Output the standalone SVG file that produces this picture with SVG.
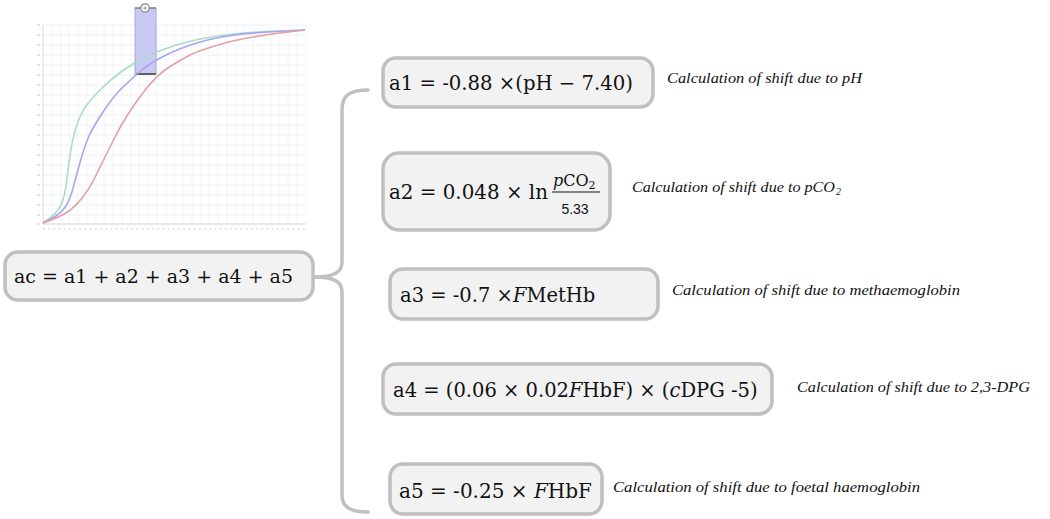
<svg xmlns="http://www.w3.org/2000/svg" width="1050" height="519" viewBox="0 0 1050 519">
<style>
.box{fill:#f2f2f2;stroke:#bfbfbf;stroke-width:3.5}
.f{font-family:"DejaVu Serif","Liberation Serif",serif;font-size:19px;fill:#111}
.i{font-style:italic}
.note{font-family:"Liberation Serif","DejaVu Serif",serif;font-style:italic;font-size:15px;fill:#111}
.conn{fill:none;stroke:#c0c0c0;stroke-width:3.5;stroke-linecap:round}
.gh{stroke:#edf0f9;stroke-width:1}
.gv{stroke:#f3f4fa;stroke-width:1}
.crv{fill:none;stroke-width:1.6}
</style>
<rect width="1050" height="519" fill="#ffffff"/>
<g id="chart">
  <g id="grid-h" class="gh">
    <line x1="43" y1="25" x2="306" y2="25"/><line x1="43" y1="35" x2="306" y2="35"/><line x1="43" y1="45" x2="306" y2="45"/><line x1="43" y1="55" x2="306" y2="55"/><line x1="43" y1="65" x2="306" y2="65"/><line x1="43" y1="75" x2="306" y2="75"/><line x1="43" y1="85" x2="306" y2="85"/><line x1="43" y1="95" x2="306" y2="95"/><line x1="43" y1="105" x2="306" y2="105"/><line x1="43" y1="115" x2="306" y2="115"/><line x1="43" y1="125" x2="306" y2="125"/><line x1="43" y1="135" x2="306" y2="135"/><line x1="43" y1="145" x2="306" y2="145"/><line x1="43" y1="155" x2="306" y2="155"/><line x1="43" y1="165" x2="306" y2="165"/><line x1="43" y1="175" x2="306" y2="175"/><line x1="43" y1="185" x2="306" y2="185"/><line x1="43" y1="195" x2="306" y2="195"/><line x1="43" y1="205" x2="306" y2="205"/><line x1="43" y1="215" x2="306" y2="215"/>
  </g>
  <g id="grid-v" class="gv">
    <line x1="52" y1="25" x2="52" y2="224"/><line x1="61" y1="25" x2="61" y2="224"/><line x1="69" y1="25" x2="69" y2="224"/><line x1="78" y1="25" x2="78" y2="224"/><line x1="87" y1="25" x2="87" y2="224"/><line x1="96" y1="25" x2="96" y2="224"/><line x1="104" y1="25" x2="104" y2="224"/><line x1="113" y1="25" x2="113" y2="224"/><line x1="122" y1="25" x2="122" y2="224"/><line x1="131" y1="25" x2="131" y2="224"/><line x1="139" y1="25" x2="139" y2="224"/><line x1="148" y1="25" x2="148" y2="224"/><line x1="157" y1="25" x2="157" y2="224"/><line x1="166" y1="25" x2="166" y2="224"/><line x1="174" y1="25" x2="174" y2="224"/><line x1="183" y1="25" x2="183" y2="224"/><line x1="192" y1="25" x2="192" y2="224"/><line x1="201" y1="25" x2="201" y2="224"/><line x1="209" y1="25" x2="209" y2="224"/><line x1="218" y1="25" x2="218" y2="224"/><line x1="227" y1="25" x2="227" y2="224"/><line x1="236" y1="25" x2="236" y2="224"/><line x1="244" y1="25" x2="244" y2="224"/><line x1="253" y1="25" x2="253" y2="224"/><line x1="262" y1="25" x2="262" y2="224"/><line x1="271" y1="25" x2="271" y2="224"/><line x1="279" y1="25" x2="279" y2="224"/><line x1="288" y1="25" x2="288" y2="224"/><line x1="297" y1="25" x2="297" y2="224"/><line x1="306" y1="25" x2="306" y2="224"/>
  </g>
  <line x1="43" y1="25" x2="43" y2="224" stroke="#dcdcdc" stroke-width="1"/>
  <line x1="43" y1="224" x2="306" y2="224" stroke="#d4d4d4" stroke-width="1"/>
  <path id="yticks" d="M37,25h3M37,35h3M37,45h3M37,55h3M37,65h3M37,75h3M37,85h3M37,95h3M37,105h3M37,115h3M37,125h3M37,135h3M37,145h3M37,155h3M37,165h3M37,175h3M37,185h3M37,195h3M37,205h3M37,215h3M37,224h3" stroke="#c4c4c4" stroke-width="1.1"/>
  <path id="xticks" stroke="#c4c4c4" stroke-width="1.1" stroke-dasharray="1.6 3.6" d="M43,229H306"/>
  <rect x="135" y="8" width="21" height="66" fill="#c9c9f4" stroke="#a6a6e0" stroke-width="1"/>
  <line x1="135" y1="8" x2="156" y2="8" stroke="#777" stroke-width="1.2"/>
  <line x1="136" y1="74" x2="156" y2="74" stroke="#555" stroke-width="1.8"/>
  <circle cx="145" cy="8" r="4.2" fill="#fff" stroke="#888" stroke-width="1.2"/>
  <circle cx="145" cy="8" r="1.6" fill="#aaa"/>
  <path class="crv" stroke="#a8dcc6" d="M43,223 Q58,213 61.5,204 Q65,195 66.5,182.5 Q68,170 70,155 Q72,140 76,127.5 Q80,115 85,107.5 Q90,100 100,90 Q110,80 121.5,71.5 Q133,63 146.5,56.5 Q160,50 180,44 Q200,38 225,35 Q250,32 277.5,31 L305,30"/>
  <path class="crv" stroke="#a6a6f0" d="M43,223 Q60,215 65,207.5 Q70,200 73.5,186.5 Q77,173 81,159 Q85,145 89,136 Q93,127 103,112 Q113,97 121.5,88.5 Q130,80 140,71.5 Q150,63 165,55.5 Q180,48 198.5,42.5 Q217,37 238.5,34.5 Q260,32 305,30"/>
  <path class="crv" stroke="#e3a0a0" d="M43,223 Q60,217 67.5,212 Q75,207 82.5,197.5 Q90,188 95,177.5 Q100,167 105,157 Q110,147 115,137 Q120,127 127.5,115 Q135,103 146,89 Q157,75 168.5,67.5 Q180,60 190,55 Q200,50 225,43 Q250,36 305,30"/>
</g>
<g id="connectors">
  <path class="conn" d="M368,90 C350,90 342,95 342,110 L342,262 C342,272 335,277 314,277"/>
  <path class="conn" d="M314,277 C335,277 342,282 342,292 L342,495 C342,507 350,512 368,512"/>
</g>
<g id="ac">
  <rect class="box" x="5" y="252" width="308" height="48" rx="13"/>
  <text class="f" x="14" y="283" textLength="279" lengthAdjust="spacingAndGlyphs">ac = a1 + a2 + a3 + a4 + a5</text>
</g>
<g id="a1">
  <rect class="box" x="383" y="58" width="270" height="49" rx="13"/>
  <text class="f" x="389" y="90" style="font-size:20px" textLength="244" lengthAdjust="spacingAndGlyphs">a1 = -0.88 ×(pH − 7.40)</text>
  <text class="note" x="667" y="83" textLength="195" lengthAdjust="spacingAndGlyphs">Calculation of shift due to pH</text>
</g>
<g id="a2">
  <rect class="box" x="383" y="153" width="227" height="77" rx="16"/>
  <text class="f" x="389" y="199" style="font-size:20px" textLength="159" lengthAdjust="spacingAndGlyphs">a2 = 0.048 × ln</text>
  <text class="f" x="553" y="186" style="font-size:16px"><tspan class="i">p</tspan>CO<tspan dy="3" style="font-size:11px">2</tspan></text>
  <line x1="552" y1="192" x2="600" y2="192" stroke="#111" stroke-width="1"/>
  <text x="575" y="214" text-anchor="middle" style="font-family:'Liberation Sans','DejaVu Sans',sans-serif;font-size:14px;fill:#111">5.33</text>
  <text class="note" x="632" y="192" textLength="203" lengthAdjust="spacingAndGlyphs">Calculation of shift due to pCO</text>
  <text class="note" x="836" y="195" style="font-size:10px">2</text>
</g>
<g id="a3">
  <rect class="box" x="390" y="269" width="268" height="50" rx="13"/>
  <text class="f" x="400" y="302" style="font-size:19.5px">a3 = -0.7 ×<tspan class="i">F</tspan>MetHb</text>
  <text class="note" x="672" y="295" textLength="288" lengthAdjust="spacingAndGlyphs">Calculation of shift due to  methaemoglobin</text>
</g>
<g id="a4">
  <rect class="box" x="383" y="364" width="389" height="50" rx="13"/>
  <text class="f" x="393" y="397" style="font-size:19.5px">a4 = (0.06 × 0.02<tspan class="i">F</tspan>HbF) × (<tspan class="i">c</tspan>DPG -5)</text>
  <text class="note" x="797" y="392" textLength="233" lengthAdjust="spacingAndGlyphs">Calculation of shift due to 2,3-DPG</text>
</g>
<g id="a5">
  <rect class="box" x="390" y="464" width="212" height="50" rx="13"/>
  <text class="f" x="399" y="498" style="font-size:20px">a5 = -0.25 × <tspan class="i">F</tspan>HbF</text>
  <text class="note" x="613" y="492" textLength="307" lengthAdjust="spacingAndGlyphs">Calculation of shift due to foetal  haemoglobin</text>
</g>
</svg>
